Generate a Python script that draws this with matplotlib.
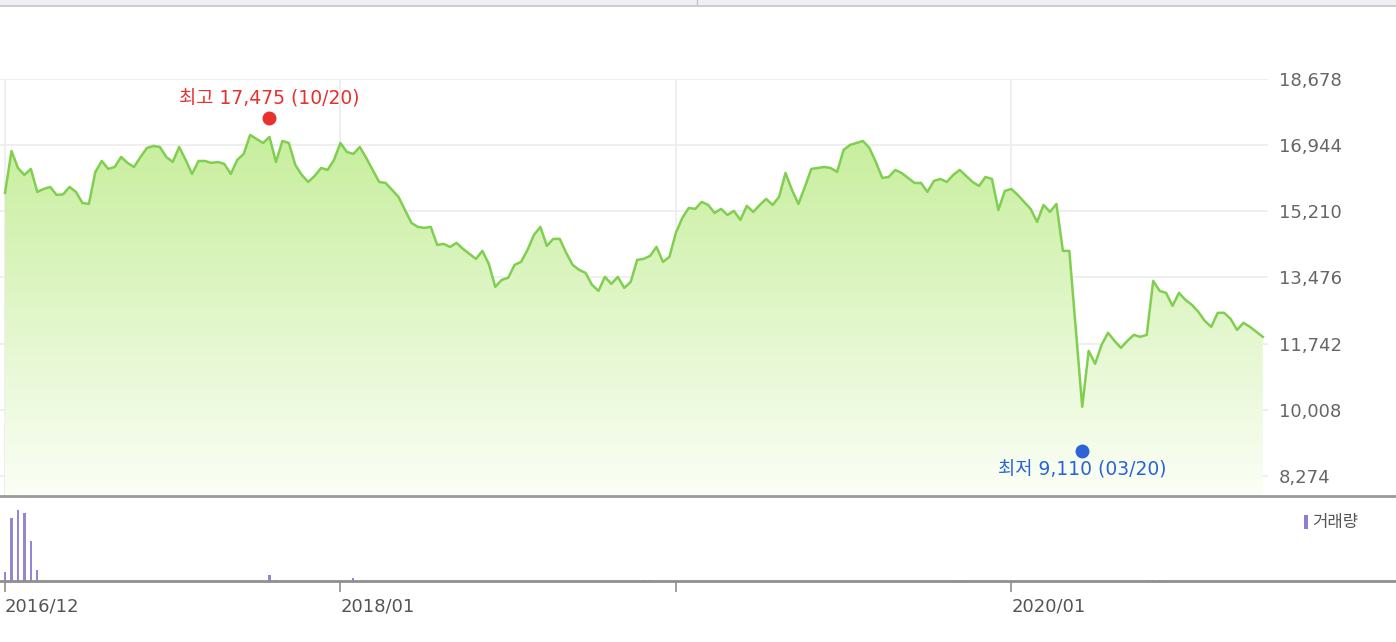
import numpy as np
import matplotlib
matplotlib.use("Agg")
import matplotlib.pyplot as plt
from matplotlib.patches import Rectangle, Polygon
from matplotlib.lines import Line2D

plt.rcParams['font.family'] = ['DejaVu Sans', 'Noto Sans CJK KR']

# weekly closing prices
prices = [
    15692, 16792, 16347, 16164, 16321, 15719, 15797, 15849, 15640, 15655,
    15849, 15719, 15430, 15404, 16242, 16530, 16321, 16373, 16635, 16478,
    16373, 16635, 16871, 16923, 16897, 16635, 16504, 16897, 16557, 16190,
    16530, 16530,
    16478, 16504, 16452, 16190, 16557, 16714, 17211, 17107, 17002, 17159,
    16504, 17054, 17002, 16426, 16164, 15980, 16138, 16347, 16295, 16557,
    17002, 16766, 16714, 16897, 16609, 16295, 15980, 15954, 15771, 15588,
    15247, 14907, 14802,
    14776, 14802, 14330, 14357, 14278, 14383, 14226, 14095, 13964, 14173,
    13833, 13230, 13414, 13466, 13807, 13885, 14200, 14592, 14802, 14304,
    14488, 14488, 14121, 13807, 13676, 13597, 13283, 13126, 13492, 13309,
    13492, 13204,
    13361, 13938, 13964, 14042, 14278, 13885, 14016, 14645, 15038, 15299,
    15273, 15457, 15378, 15169, 15273, 15116, 15221, 14985, 15352, 15195,
    15378, 15535, 15378, 15588, 16216, 15771, 15404, 15849, 16321, 16347,
    16373, 16347, 16242,
    16819, 16949, 17002, 17054, 16871, 16504, 16085, 16111, 16295, 16216,
    16085, 15954, 15954, 15719, 16007, 16059, 15980, 16164, 16295, 16138,
    15980, 15876, 16111, 16059, 15247, 15745, 15797, 15640, 15457, 15273,
    14933,
    15378, 15195, 15404, 14173, 14173, 12130, 10088, 11554, 11214, 11711,
    12026, 11816, 11633, 11816, 11973, 11921, 11973, 13388, 13126, 13073,
    12733, 13073, 12890, 12759, 12576, 12340, 12183, 12550, 12550, 12392,
    12104, 12288, 12183, 12052, 11921,
]

# volume (only weeks with visible bars)
vol_weeks = [0, 1, 2, 3, 4, 5, 41, 42, 54, 99, 100, 148, 177, 178, 179]
vol_values = [9000, 63000, 71000, 68000, 40000, 11000, 6000, 1500, 3000,
              1500, 1500, 800, 1200, 1200, 1200]

y_ticks = [8274, 10008, 11742, 13476, 15210, 16944, 18678]
x_tick_weeks = [0, 52, 104, 156]
x_tick_labels = ["2016/12", "2018/01", "", "2020/01"]

hi_week, hi_mark, hi_label = 41, 17657, "최고 17,475 (10/20)"
lo_week, lo_mark, lo_label = 167, 8935, "최저 9,110 (03/20)"

W, H = 1396, 642
fig = plt.figure(figsize=(W / 100, H / 100), dpi=100)
fig.patch.set_facecolor("white")

# top frame strip
fig.patches.append(Rectangle((0, 1 - 5 / H), 1, 5 / H, transform=fig.transFigure,
                             facecolor="#eef0f4", edgecolor="none"))
fig.lines.append(Line2D([0, 1], [1 - 5.5 / H] * 2, transform=fig.transFigure,
                        color="#c3c5cb", lw=1.2))
fig.lines.append(Line2D([697 / W] * 2, [1 - 5 / H, 1], transform=fig.transFigure,
                        color="#c3c5cb", lw=1))

x = np.arange(len(prices))
xmin, xmax = -0.78, 195.8
ymin, ymax = 7776, 18678

price_right = 1268 / W
ax = fig.add_axes([0, (H - 495) / H, price_right, (495 - 79) / H])
ax.set_xlim(xmin, xmax)
ax.set_ylim(ymin, ymax)
for s in ax.spines.values():
    s.set_visible(False)

# gradient area fill
poly_pts = np.column_stack([np.r_[x[0], x, x[-1]], np.r_[ymin, prices, ymin]])
poly = Polygon(poly_pts, closed=True, facecolor="none", edgecolor="none")
ax.add_patch(poly)
top = np.array([0.75, 0.925, 0.56])
bot = np.array([0.985, 0.997, 0.965])
t = np.linspace(0, 1, 256)[:, None]
grad = (top * (1 - t) + bot * t)[:, None, :]
im = ax.imshow(grad, extent=[xmin, xmax, ymin, ymax], aspect="auto",
               origin="upper", zorder=1)
im.set_clip_path(poly)

ax.plot(x, prices, color="#80cf50", lw=1.8, zorder=3)

ax.set_yticks(y_ticks)
ax.set_yticklabels([f"{v:,}" for v in y_ticks])
ax.yaxis.tick_right()
ax.tick_params(axis="y", length=0, pad=8, labelsize=13, labelcolor="#666666")
ax.set_xticks(x_tick_weeks)
ax.tick_params(axis="x", length=0, labelbottom=False)
ax.grid(True, color="#ececec", lw=1.2, zorder=0)
ax.set_axisbelow(True)

# high / low markers
ax.plot(hi_week, hi_mark, "o", color="#e8302c", ms=9, zorder=4, clip_on=False)
ax.annotate(hi_label, (hi_week, hi_mark), xytext=(0, 14), textcoords="offset points",
            ha="center", va="center", color="#e8302c", fontsize=13.5)
ax.plot(lo_week, lo_mark, "o", color="#2b64d6", ms=9, zorder=4, clip_on=False)
ax.annotate(lo_label, (lo_week, lo_mark), xytext=(0, -14), textcoords="offset points",
            ha="center", va="center", color="#2b64d6", fontsize=13.5)

fig.lines.append(Line2D([0, 1], [(H - 495.5) / H] * 2, transform=fig.transFigure,
                        color="#9a9a9a", lw=2))

# volume panel
axv = fig.add_axes([0, (H - 581) / H, 1, (581 - 497) / H])
axv.set_xlim(xmin, xmin + (xmax - xmin) / price_right)
axv.set_ylim(0, 84000)
axv.bar(vol_weeks, vol_values, width=0.35, color="#9486d2")
for k in ["top", "left", "right"]:
    axv.spines[k].set_visible(False)
axv.spines["bottom"].set_color("#8f8f8f")
axv.spines["bottom"].set_linewidth(2)
axv.set_yticks([])
axv.set_xticks(x_tick_weeks)
axv.set_xticklabels(x_tick_labels, ha="left")
axv.tick_params(axis="x", length=8, width=1.2, color="#8f8f8f", pad=4,
                labelsize=13, labelcolor="#555555")
axv.add_patch(Rectangle((1304 / W, 0.62), 4 / W, 0.17, transform=axv.transAxes,
                        facecolor="#8e7fd0", edgecolor="none"))
axv.text(1312 / W, 0.70, "거래량", transform=axv.transAxes, color="#555555",
         fontsize=12, ha="left", va="center")

fig.savefig("out.png", dpi=100, facecolor="white")
